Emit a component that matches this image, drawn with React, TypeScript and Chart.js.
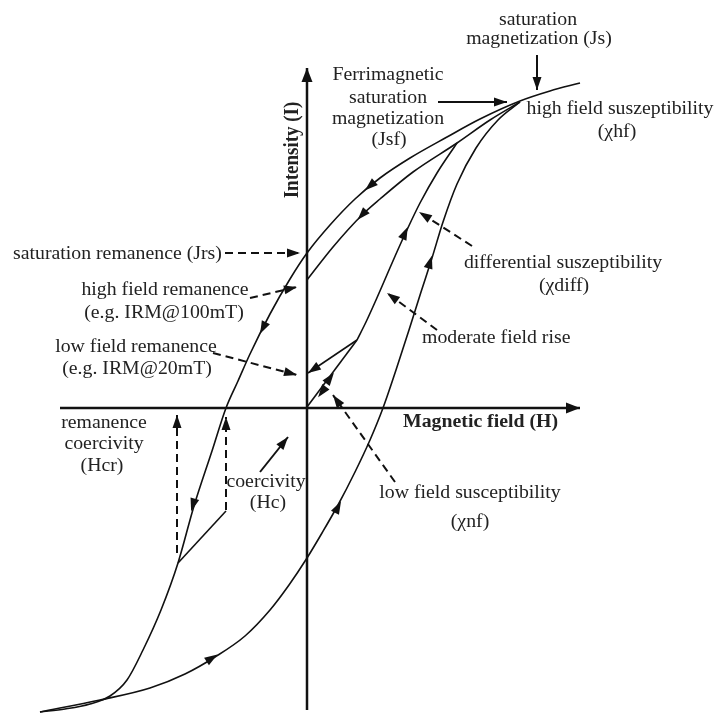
import React, { useEffect, useRef } from "react";
import { Chart, registerables } from "chart.js";

Chart.register(...registerables);

// Field (H) and intensity (I) in arbitrary units
const H_MIN = -307;
const H_MAX = 409;
const I_MIN = -305;
const I_MAX = 408;

// Outer loop, descending branch (from saturation down to negative saturation)
const outerDescending: number[][] = [
  [273, 325], [243, 317], [213, 307], [173, 289], [140, 271], [103, 250], [73, 230],
  [48, 209], [23, 183], [0, 155], [-17, 129], [-37, 94], [-57, 54], [-69, 27],
  [-81, 0], [-95, -43], [-113, -98], [-129, -155], [-146, -202], [-164, -242],
  [-180, -272], [-197, -288], [-217, -296], [-242, -301], [-267, -304],
];

// Outer loop, ascending branch
const outerAscending: number[][] = [
  [-267, -304], [-207, -292], [-157, -280], [-122, -266], [-92, -249], [-62, -228],
  [-37, -202], [-18, -177], [0, -150], [15, -125], [31, -97], [48, -64], [63, -32],
  [76, 0], [89, 38], [102, 78], [114, 116], [125, 150], [136, 186], [150, 224],
  [169, 260], [191, 288], [213, 306],
];

// Descending curve from high field to high-field remanence
const highFieldDescending: number[][] = [
  [213, 306], [183, 288], [150, 265], [106, 236], [73, 209], [55, 193], [26, 161], [0, 128],
];

// Moderate field rise (IRM acquisition) joining the high field curve
const moderateRise: number[][] = [
  [50, 68], [59, 86], [69, 108], [79, 131], [89, 154], [99, 176], [113, 205], [130, 235], [150, 265],
];

// Initial (reversible) low field segment and return to low field remanence
const lowFieldSegment: number[][] = [[0, 1], [50, 68]];
const lowFieldReturn: number[][] = [[50, 68], [1, 35]];

// Return line from the backfield point
const backfieldReturn: number[][] = [[-129, -155], [-81, -103]];

// Coordinate axes
const hAxis: number[][] = [[-247, 0], [273, 0]];
const iAxis: number[][] = [[0, -302], [0, 340]];

// Annotation pointers (start -> end)
const pointerJs: number[][] = [[230, 353], [230, 318]];
const pointerJsf: number[][] = [[131, 306], [200, 306]];
const pointerHc: number[][] = [[-47, -64], [-19, -29]];
const dashedJrs: number[][] = [[-82, 155], [-7, 155]];
const dashedHighRem: number[][] = [[-57, 110], [-10, 121]];
const dashedLowRem: number[][] = [[-94, 55], [-10, 33]];
const dashedDiff: number[][] = [[165, 162], [112, 196]];
const dashedModerate: number[][] = [[130, 78], [80, 115]];
const dashedLowSusc: number[][] = [[88, -74], [26, 13]];
const dashedHcr: number[][] = [[-130, -145], [-130, -7]];
const dashedHcLine: number[][] = [[-81, -102], [-81, -9]];

// Direction arrows on curves: [H, I, dH, dI]
const curveArrows: number[][] = [
  [63, 222, -25, -22],
  [55, 193, -29, -32],
  [-44, 80, -20, -40],
  [-114, -97, -15, -50],
  [98, 175, 10, 22],
  [123, 146, 11, 36],
  [31, -99, 17, 32],
  [-95, -250, 30, 19],
  [23, 30, 50, 67],
  [15, 16, -50, -67],
];

type Label = { t: string; h: number; i: number; align?: CanvasTextAlign; bold?: boolean; rotate?: boolean };
const labels: Label[] = [
  { t: "saturation", h: 231, i: 383 },
  { t: "magnetization (Js)", h: 232, i: 364 },
  { t: "Ferrimagnetic", h: 81, i: 328 },
  { t: "saturation", h: 81, i: 305 },
  { t: "magnetization", h: 81, i: 284 },
  { t: "(Jsf)", h: 82, i: 263 },
  { t: "high field suszeptibility", h: 313, i: 294 },
  { t: "(χhf)", h: 310, i: 271 },
  { t: "saturation remanence (Jrs)", h: -294, i: 149, align: "left" },
  { t: "high field remanence", h: -142, i: 113 },
  { t: "(e.g. IRM@100mT)", h: -143, i: 90 },
  { t: "low field remanence", h: -171, i: 56 },
  { t: "(e.g. IRM@20mT)", h: -170, i: 34 },
  { t: "remanence", h: -203, i: -20 },
  { t: "coercivity", h: -203, i: -41 },
  { t: "(Hcr)", h: -205, i: -63 },
  { t: "coercivity", h: -41, i: -79 },
  { t: "(Hc)", h: -39, i: -100 },
  { t: "moderate field rise", h: 115, i: 65, align: "left" },
  { t: "low field susceptibility", h: 163, i: -90 },
  { t: "(χnf)", h: 163, i: -119 },
  { t: "differential suszeptibility", h: 256, i: 140 },
  { t: "(χdiff)", h: 257, i: 117 },
  { t: "Magnetic field (H)", h: 96, i: -19, align: "left", bold: true },
  { t: "Intensity (I)", h: -9, i: 258, bold: true, rotate: true },
];

const toPts = (a: number[][]) => a.map(([x, y]) => ({ x, y }));

const LINE = "#111111";
const TEXT = "#222222";

function drawHead(ctx: CanvasRenderingContext2D, tx: number, ty: number, ux: number, uy: number, len: number, half: number) {
  const bx = tx - ux * len;
  const by = ty - uy * len;
  ctx.beginPath();
  ctx.moveTo(tx, ty);
  ctx.lineTo(bx - uy * half, by + ux * half);
  ctx.lineTo(bx + uy * half, by - ux * half);
  ctx.closePath();
  ctx.fill();
}

const overlayPlugin = {
  id: "overlay",
  afterDatasetsDraw(chart: any) {
    const { ctx, scales } = chart;
    const xs = scales.x;
    const ys = scales.y;
    ctx.save();
    ctx.fillStyle = LINE;
    chart.data.datasets.forEach((ds: any, k: number) => {
      if (!ds.arrowEnd) return;
      const meta = chart.getDatasetMeta(k);
      const n = meta.data.length;
      const a = meta.data[n - 2];
      const b = meta.data[n - 1];
      const dx = b.x - a.x;
      const dy = b.y - a.y;
      const d = Math.hypot(dx, dy) || 1;
      drawHead(ctx, b.x, b.y, dx / d, dy / d, ds.headLen || 13, ds.headHalf || 4.5);
    });
    curveArrows.forEach(([h, i, dh, di]) => {
      const cx = xs.getPixelForValue(h);
      const cy = ys.getPixelForValue(i);
      const dx = xs.getPixelForValue(h + dh) - cx;
      const dy = ys.getPixelForValue(i + di) - cy;
      const d = Math.hypot(dx, dy) || 1;
      const ux = dx / d;
      const uy = dy / d;
      const L = 13;
      drawHead(ctx, cx + (ux * L) / 2, cy + (uy * L) / 2, ux, uy, L, 4.5);
    });
    ctx.fillStyle = TEXT;
    ctx.textBaseline = "alphabetic";
    labels.forEach((lb) => {
      const x = xs.getPixelForValue(lb.h);
      const y = ys.getPixelForValue(lb.i);
      ctx.save();
      ctx.translate(x, y);
      if (lb.rotate) {
        ctx.rotate(-Math.PI / 2);
        ctx.scale(1, 1.1);
        ctx.font = `bold 19px "Liberation Serif", "Times New Roman", serif`;
      } else {
        ctx.scale(1.1, 1);
        ctx.font = `${lb.bold ? "bold " : ""}18px "Liberation Serif", "Times New Roman", serif`;
      }
      ctx.textAlign = lb.align || "center";
      ctx.fillText(lb.t, 0, 0);
      ctx.restore();
    });
    ctx.restore();
  },
};

export default function App() {
  const ref = useRef<HTMLCanvasElement | null>(null);

  useEffect(() => {
    document.body.style.margin = "0";
    const canvas = ref.current;
    if (!canvas) return;

    const curve = (data: number[][], extra: any = {}) => ({
      data: toPts(data),
      showLine: true,
      borderColor: LINE,
      borderWidth: 1.6,
      pointRadius: 0,
      tension: 0.4,
      cubicInterpolationMode: "monotone",
      fill: false,
      ...extra,
    });
    const straight = (data: number[][], extra: any = {}) =>
      curve(data, { tension: 0, cubicInterpolationMode: "default", ...extra });
    const dashed = (data: number[][]) =>
      straight(data, { borderDash: [8, 5], borderWidth: 2, arrowEnd: true });

    const chart = new Chart(canvas, {
      type: "scatter",
      data: {
        datasets: [
          straight(hAxis, { borderWidth: 2.5, arrowEnd: true, headLen: 14, headHalf: 5.5 }),
          straight(iAxis, { borderWidth: 2.5, arrowEnd: true, headLen: 14, headHalf: 5.5 }),
          curve(outerDescending),
          curve(outerAscending),
          curve(highFieldDescending),
          curve(moderateRise),
          straight(lowFieldSegment),
          straight(lowFieldReturn, { arrowEnd: true }),
          straight(backfieldReturn),
          straight(pointerJs, { borderWidth: 2, arrowEnd: true }),
          straight(pointerJsf, { borderWidth: 2, arrowEnd: true }),
          straight(pointerHc, { borderWidth: 2, arrowEnd: true }),
          dashed(dashedJrs),
          dashed(dashedHighRem),
          dashed(dashedLowRem),
          dashed(dashedDiff),
          dashed(dashedModerate),
          dashed(dashedLowSusc),
          dashed(dashedHcr),
          dashed(dashedHcLine),
        ] as any,
      },
      options: {
        responsive: false,
        maintainAspectRatio: false,
        animation: false,
        devicePixelRatio: 1,
        layout: { padding: 0 },
        plugins: { legend: { display: false }, tooltip: { enabled: false } },
        events: [],
        scales: {
          x: { type: "linear", display: false, min: H_MIN, max: H_MAX },
          y: { type: "linear", display: false, min: I_MIN, max: I_MAX },
        },
      } as any,
      plugins: [overlayPlugin],
    });
    return () => chart.destroy();
  }, []);

  return (
    <div style={{ position: "absolute", left: 0, top: 0, width: 716, height: 713, background: "#ffffff" }}>
      <canvas ref={ref} width={716} height={713} style={{ width: 716, height: 713, display: "block" }} />
    </div>
  );
}
